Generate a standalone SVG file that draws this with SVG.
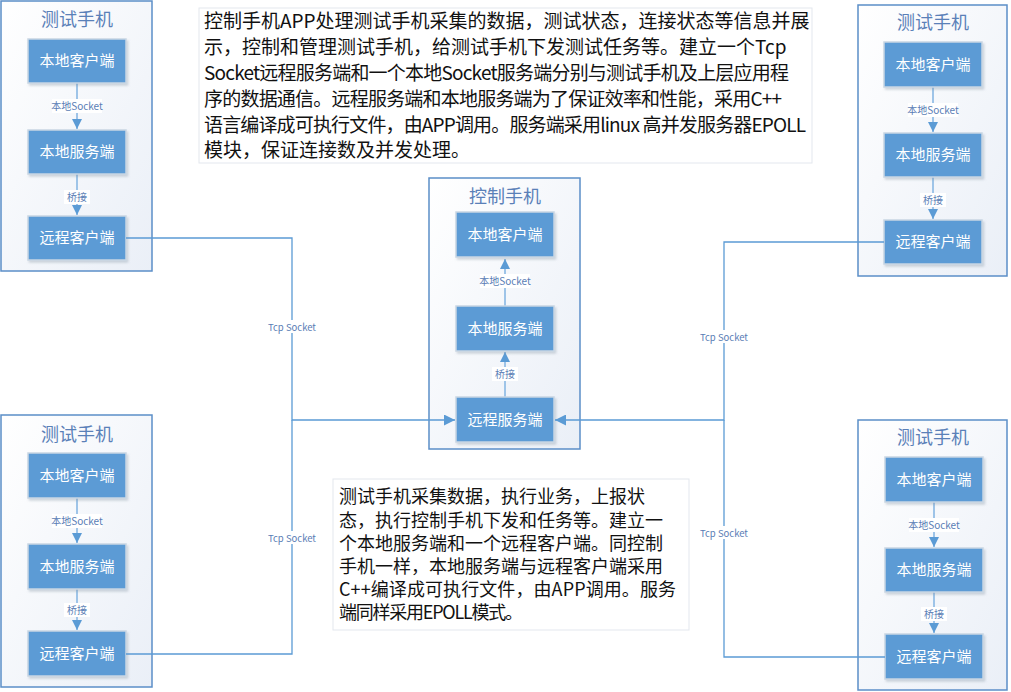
<svg xmlns="http://www.w3.org/2000/svg" width="1011" height="692" viewBox="0 0 1011 692">
<defs>
<linearGradient id="cg" x1="0" y1="0" x2="1" y2="1">
<stop offset="0" stop-color="#ffffff"/>
<stop offset="1" stop-color="#eaeff7"/>
</linearGradient>
<filter id="sh" x="-10%" y="-10%" width="125%" height="130%">
<feDropShadow dx="1.5" dy="2" stdDeviation="1.2" flood-color="#8090a0" flood-opacity="0.35"/>
</filter>
<marker id="ah" viewBox="0 0 10 10" refX="10" refY="5" markerWidth="10" markerHeight="10" markerUnits="userSpaceOnUse" orient="auto">
<path d="M0,0 L10,5 L0,10 Z" fill="#5b9bd5"/>
</marker>
<marker id="ah2" viewBox="0 0 10 10" refX="10" refY="5" markerWidth="11" markerHeight="11" markerUnits="userSpaceOnUse" orient="auto">
<path d="M0,0 L10,5 L0,10 Z" fill="#5b9bd5"/>
</marker>
</defs>
<style>
.cont{fill:url(#cg);stroke:#5b8ec8;stroke-width:1.5}
.title{font-family:"Noto Sans CJK SC","Noto Sans",sans-serif;font-size:18px;fill:#5a80b8;text-anchor:middle}
.box{fill:#5b9bd5;stroke:#c9d6e3;stroke-width:1.5;filter:url(#sh)}
.bt{font-family:"Noto Sans CJK SC","Noto Sans",sans-serif;font-size:15px;fill:#ffffff;text-anchor:middle}
.inner{stroke:#9ec4e8;stroke-width:2;fill:none}
.lbl{font-family:"Noto Sans CJK SC","Noto Sans",sans-serif;font-size:10px;fill:#5a7db5;text-anchor:middle}
.lbg{fill:#ffffff}
.tcp{stroke:#5b9bd5;stroke-width:1.3;fill:none}
.note{fill:#ffffff;stroke:#e3e7ee;stroke-width:1}
.nt{font-family:"Noto Sans CJK SC","Noto Sans",sans-serif;fill:#111111}
</style>

<g id="test-phone-tl">
<rect class="cont" x="1" y="1" width="151" height="270"/>
<text class="title" x="77" y="25.5">测试手机</text>
<path class="inner" d="M77,83 V129" marker-end="url(#ah)"/>
<rect class="lbg" x="52" y="99" width="50" height="14"/>
<text class="lbl" x="77" y="110">本地Socket</text>
<path class="inner" d="M77,174 V215" marker-end="url(#ah)"/>
<rect class="lbg" x="64" y="190" width="26" height="14"/>
<text class="lbl" x="77" y="201">桥接</text>
<rect class="box" x="28" y="39" width="98" height="44"/>
<text class="bt" x="77" y="66">本地客户端</text>
<rect class="box" x="28" y="130" width="98" height="44"/>
<text class="bt" x="77" y="157">本地服务端</text>
<rect class="box" x="28" y="216" width="98" height="44"/>
<text class="bt" x="77" y="243">远程客户端</text>
</g>

<g id="test-phone-tr">
<rect class="cont" x="858" y="5" width="149" height="271"/>
<text class="title" x="933" y="28.5">测试手机</text>
<path class="inner" d="M933,87 V132" marker-end="url(#ah)"/>
<rect class="lbg" x="908" y="103" width="50" height="14"/>
<text class="lbl" x="933" y="114">本地Socket</text>
<path class="inner" d="M933,177 V219" marker-end="url(#ah)"/>
<rect class="lbg" x="920" y="193" width="26" height="14"/>
<text class="lbl" x="933" y="204">桥接</text>
<rect class="box" x="884" y="42" width="98" height="45"/>
<text class="bt" x="933" y="69.5">本地客户端</text>
<rect class="box" x="884" y="133" width="98" height="44"/>
<text class="bt" x="933" y="160">本地服务端</text>
<rect class="box" x="884" y="220" width="98" height="44"/>
<text class="bt" x="933" y="247">远程客户端</text>
</g>

<g id="control-phone">
<rect class="cont" x="429" y="178" width="151" height="271"/>
<text class="title" x="505" y="202.5">控制手机</text>
<path class="inner" d="M505,306 V259" marker-end="url(#ah)"/>
<rect class="lbg" x="480" y="274" width="50" height="14"/>
<text class="lbl" x="505" y="285">本地Socket</text>
<path class="inner" d="M505,397 V352" marker-end="url(#ah)"/>
<rect class="lbg" x="492" y="367" width="26" height="14"/>
<text class="lbl" x="505" y="378">桥接</text>
<rect class="box" x="456" y="212" width="98" height="45"/>
<text class="bt" x="505" y="239.5">本地客户端</text>
<rect class="box" x="456" y="306" width="98" height="45"/>
<text class="bt" x="505" y="333.5">本地服务端</text>
<rect class="box" x="456" y="397" width="98" height="45"/>
<text class="bt" x="505" y="424.5">远程服务端</text>
</g>

<g id="test-phone-bl">
<rect class="cont" x="1" y="415" width="151" height="272"/>
<text class="title" x="77" y="440.5">测试手机</text>
<path class="inner" d="M77,498 V543" marker-end="url(#ah)"/>
<rect class="lbg" x="52" y="514" width="50" height="14"/>
<text class="lbl" x="77" y="525">本地Socket</text>
<path class="inner" d="M77,589 V630" marker-end="url(#ah)"/>
<rect class="lbg" x="64" y="603" width="26" height="14"/>
<text class="lbl" x="77" y="614">桥接</text>
<rect class="box" x="28" y="453" width="98" height="45"/>
<text class="bt" x="77" y="480.5">本地客户端</text>
<rect class="box" x="28" y="544" width="98" height="45"/>
<text class="bt" x="77" y="571.5">本地服务端</text>
<rect class="box" x="28" y="631" width="98" height="45"/>
<text class="bt" x="77" y="658.5">远程客户端</text>
</g>

<g id="test-phone-br">
<rect class="cont" x="858" y="420" width="149" height="270"/>
<text class="title" x="933" y="443.5">测试手机</text>
<path class="inner" d="M934,502 V547" marker-end="url(#ah)"/>
<rect class="lbg" x="909" y="518" width="50" height="14"/>
<text class="lbl" x="934" y="529">本地Socket</text>
<path class="inner" d="M934,592 V633" marker-end="url(#ah)"/>
<rect class="lbg" x="921" y="607" width="26" height="14"/>
<text class="lbl" x="934" y="618">桥接</text>
<rect class="box" x="885" y="457" width="98" height="45"/>
<text class="bt" x="934" y="484.5">本地客户端</text>
<rect class="box" x="885" y="548" width="98" height="44"/>
<text class="bt" x="934" y="575">本地服务端</text>
<rect class="box" x="885" y="634" width="98" height="45"/>
<text class="bt" x="934" y="661.5">远程客户端</text>
</g>

<g id="note-top">
<rect class="note" x="199" y="8" width="613" height="155"/>
<text class="nt" style="font-size:19px">
<tspan x="204" y="28">控制手机APP处理测试手机采集的数据，测试状态，连接状态等信息并展</tspan>
<tspan x="204" y="54">示，控制和管理测试手机，给测试手机下发测试任务等。建立一个Tcp</tspan>
</text>
<text class="nt" style="font-size:19px" x="204" y="80" textLength="585" lengthAdjust="spacing">Socket远程服务端和一个本地Socket服务端分别与测试手机及上层应用程</text>
<text class="nt" style="font-size:19px" x="204" y="106" textLength="578" lengthAdjust="spacing">序的数据通信。远程服务端和本地服务端为了保证效率和性能，采用C++</text>
<text class="nt" style="font-size:19px" x="204" y="132" textLength="602" lengthAdjust="spacing">语言编译成可执行文件，由APP调用。服务端采用linux 高并发服务器EPOLL</text>
<text class="nt" style="font-size:19px" x="204" y="157">模块，保证连接数及并发处理。</text>
</g>

<g id="note-bottom">
<rect class="note" x="333" y="479" width="356" height="151"/>
<text class="nt" style="font-size:18px">
<tspan x="339" y="503">测试手机采集数据，执行业务，上报状</tspan>
<tspan x="339" y="527">态，执行控制手机下发和任务等。建立一</tspan>
<tspan x="339" y="550">个本地服务端和一个远程客户端。同控制</tspan>
<tspan x="339" y="573">手机一样，本地服务端与远程客户端采用</tspan>
</text>
<text class="nt" style="font-size:18px" x="339" y="596" textLength="337" lengthAdjust="spacing">C++编译成可执行文件，由APP调用。服务</text>
<text class="nt" style="font-size:18px" x="339" y="619" textLength="184" lengthAdjust="spacing">端同样采用EPOLL模式。</text>
</g>

<g id="connectors">
<path class="tcp" d="M126,238 H292 V420 H455" marker-end="url(#ah2)"/>
<path class="tcp" d="M126,654 H292 V420"/>
<path class="tcp" d="M884,242 H724 V420 H555" marker-end="url(#ah2)"/>
<path class="tcp" d="M885,657 H724 V420"/>
<rect class="lbg" x="266" y="320" width="52" height="13"/>
<text class="lbl" x="292" y="330.5" style="font-size:9.5px">Tcp Socket</text>
<rect class="lbg" x="266" y="531" width="52" height="13"/>
<text class="lbl" x="292" y="541.5" style="font-size:9.5px">Tcp Socket</text>
<rect class="lbg" x="698" y="330" width="52" height="13"/>
<text class="lbl" x="724" y="340.5" style="font-size:9.5px">Tcp Socket</text>
<rect class="lbg" x="698" y="526" width="52" height="13"/>
<text class="lbl" x="724" y="536.5" style="font-size:9.5px">Tcp Socket</text>
</g>
</svg>
